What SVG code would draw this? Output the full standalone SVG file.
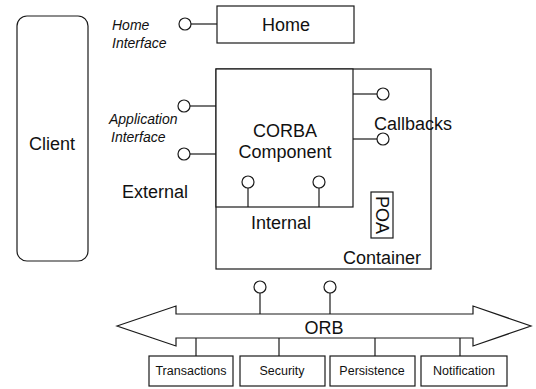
<svg xmlns="http://www.w3.org/2000/svg" width="536" height="389" viewBox="0 0 536 389">
<style>
.box{fill:#fff;stroke:#1a1a1a;stroke-width:1.2}
.ln{stroke:#1a1a1a;stroke-width:1.2;fill:none}
.port{fill:#fff;stroke:#1a1a1a;stroke-width:1.2}
text{font-family:"Liberation Sans",Arial,sans-serif;fill:#111}
.lg{font-size:18px}
.it{font-size:14px;font-style:italic}
.sm{font-size:12.5px}
</style>
<rect width="536" height="389" fill="#fff"/>
<g id="client">
<rect class="box" x="17" y="16" width="71" height="245" rx="10"/>
<text class="lg" x="52" y="149.5" text-anchor="middle" font-size="19">Client</text>
</g>
<g id="home">
<rect class="box" x="217" y="6" width="137" height="37"/>
<text class="lg" x="286" y="31" text-anchor="middle">Home</text>
</g>
<g id="container">
<rect class="box" x="216" y="69" width="215" height="200"/>
<text class="lg" x="421" y="264" text-anchor="end">Container</text>
<text class="lg" x="251" y="229" font-size="17">Internal</text>
<text class="lg" x="374" y="130" font-size="17.5">Callbacks</text>
</g>
<g id="component">
<rect class="box" x="216" y="69" width="137" height="138"/>
<text class="lg" x="285" y="136.5" text-anchor="middle">CORBA</text>
<text class="lg" x="285" y="157.5" text-anchor="middle">Component</text>
</g>
<g id="poa">
<rect class="box" x="371" y="192" width="22" height="46"/>
<text class="lg" x="382" y="215" text-anchor="middle" font-size="17" transform="rotate(90 382 215)" dy="6">POA</text>
</g>
<g id="orb">
<path class="box" d="M117,326 L176,306 L176,314 L473,314 L473,306 L531,326 L473,346 L473,338 L176,338 L176,346 Z"/>
<text class="lg" x="324" y="334" text-anchor="middle" font-size="19">ORB</text>
</g>
<g id="transactions">
<rect class="box" x="149" y="356" width="84" height="30"/>
<text class="sm" x="191" y="375" text-anchor="middle">Transactions</text>
</g>
<g id="security">
<rect class="box" x="240" y="356" width="85" height="30"/>
<text class="sm" x="282" y="375" text-anchor="middle">Security</text>
</g>
<g id="persistence">
<rect class="box" x="330" y="356" width="85" height="30"/>
<text class="sm" x="372" y="375" text-anchor="middle">Persistence</text>
</g>
<g id="notification">
<rect class="box" x="421" y="356" width="86" height="30"/>
<text class="sm" x="464" y="375" text-anchor="middle">Notification</text>
</g>
<g id="connectors">
<line class="ln" x1="191" y1="24" x2="217" y2="24"/>
<line class="ln" x1="190" y1="106" x2="216" y2="106"/>
<line class="ln" x1="190" y1="154" x2="216" y2="154"/>
<line class="ln" x1="248" y1="188" x2="248" y2="207"/>
<line class="ln" x1="319" y1="188" x2="319" y2="207"/>
<line class="ln" x1="353" y1="94" x2="377" y2="94"/>
<line class="ln" x1="353" y1="139" x2="377" y2="139"/>
<line class="ln" x1="260" y1="293" x2="260" y2="314"/>
<line class="ln" x1="330" y1="293" x2="330" y2="314"/>
<line class="ln" x1="196" y1="338" x2="196" y2="356"/>
<line class="ln" x1="279" y1="338" x2="279" y2="356"/>
<line class="ln" x1="375" y1="338" x2="375" y2="356"/>
<line class="ln" x1="460" y1="338" x2="460" y2="356"/>
</g>
<g id="home-interface">
<circle class="port" cx="185" cy="24" r="6"/>
<text class="it" x="112" y="30">Home</text>
<text class="it" x="112" y="48">Interface</text>
</g>
<g id="application-interface">
<circle class="port" cx="184" cy="106" r="6"/>
<circle class="port" cx="184" cy="154" r="6"/>
<text class="it" x="109" y="124">Application</text>
<text class="it" x="111" y="142">Interface</text>
<text class="lg" x="122" y="198" font-size="17">External</text>
</g>
<g id="internal-ports">
<circle class="port" cx="248" cy="182" r="6"/>
<circle class="port" cx="319" cy="182" r="6"/>
</g>
<g id="callback-ports">
<circle class="port" cx="383" cy="94" r="6"/>
<circle class="port" cx="383" cy="139" r="6"/>
</g>
<g id="orb-ports">
<circle class="port" cx="260" cy="287" r="6"/>
<circle class="port" cx="330" cy="287" r="6"/>
</g>
</svg>
